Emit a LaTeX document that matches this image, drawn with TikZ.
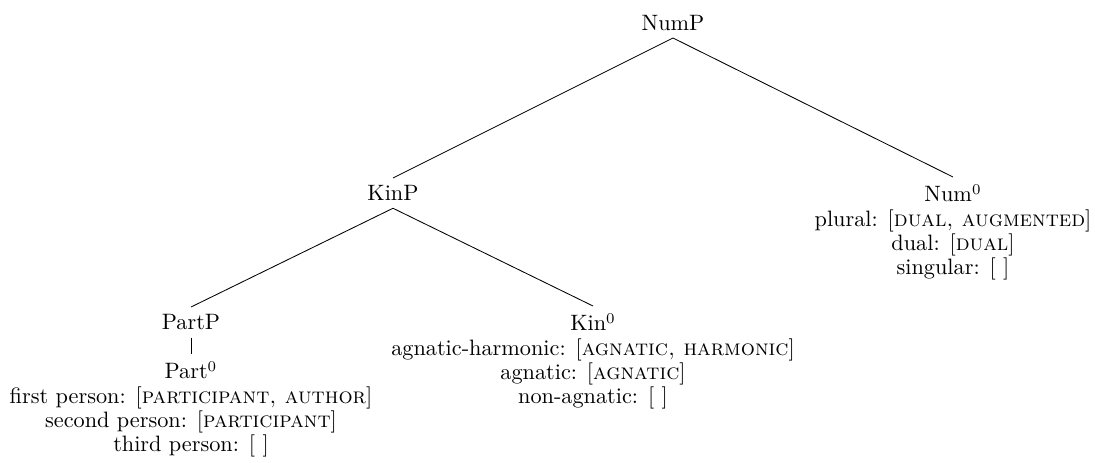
\documentclass[tikz,border=0pt]{standalone}
\begin{document}
\begin{tikzpicture}[x=0.4695pt,y=0.4695pt,
    every node/.style={font=\fontsize{10.45pt}{11.4pt}\selectfont},
    leaf/.style={align=center}]
   \useasboundingbox (0,0) rectangle (1095,-462);
   % 節点
   \node [anchor=south] (nump) at (673,-38) {NumP};
   \node [anchor=north] (kinp) at (393,-178) {KinP};
   \node [leaf,anchor=north] (num0) at (953,-177)
      {Num$^0$\\plural: [\textsc{dual, augmented}]\\dual: [\textsc{dual}]\\singular: [ ]};
   \node [anchor=north] (partp) at (191,-307) {PartP};
   \node [leaf,anchor=north] (kin0) at (593,-306)
      {Kin$^0$\\agnatic-harmonic: [\textsc{agnatic, harmonic}]\\agnatic: [\textsc{agnatic}]\\non-agnatic: [ ]};
   \node [leaf,anchor=north] (part0) at (191,-354)
      {Part$^0$\\first person: [\textsc{participant, author}]\\second person: [\textsc{participant}]\\third person: [ ]};

   % 枝
   \draw (nump.south) -- (kinp.north);
   \draw (nump.south) -- (num0.north);
   \draw (kinp.south) -- (partp.north);
   \draw (kinp.south) -- (kin0.north);
   \draw (partp.south) -- (part0.north);
\end{tikzpicture}
\end{document}
